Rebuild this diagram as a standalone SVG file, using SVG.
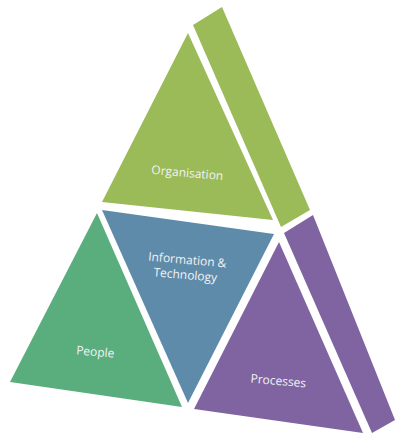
<svg xmlns="http://www.w3.org/2000/svg" width="396" height="435" viewBox="0 0 396 435">
  <style>
    .lbl { font-family: "Open Sans", "Liberation Sans", sans-serif; font-size: 12px; fill: #f2f2f2; text-anchor: middle; }
    .org { fill: #9bbb59; }
    .info { fill: #5f8bab; }
    .ppl { fill: #5aae7e; }
    .proc { fill: #8064a2; }
  </style>
  <rect width="396" height="435" fill="#ffffff"/>
  <g id="organisation">
    <polygon class="org" points="188,33 273,220 102,202"/>
    <polygon class="org" points="193,25 222,7 310,210 281,227"/>
    <text class="lbl" transform="translate(187,177) rotate(5)">Organisation</text>
  </g>
  <g id="information-technology">
    <polygon class="info" points="102,210 274,234 188,403"/>
    <text class="lbl" transform="translate(187,264) rotate(5)">Information &amp;</text>
    <text class="lbl" transform="translate(185,279) rotate(5)">Technology</text>
  </g>
  <g id="people">
    <polygon class="ppl" points="97,213 182,407 10,382"/>
    <text class="lbl" transform="translate(95,356) rotate(5)">People</text>
  </g>
  <g id="processes">
    <polygon class="proc" points="279,242 363,433 194,409"/>
    <polygon class="proc" points="284,233 313,215 395,420 372,433"/>
    <text class="lbl" transform="translate(278,385) rotate(5)">Processes</text>
  </g>
  <g id="connectors"/>
</svg>
